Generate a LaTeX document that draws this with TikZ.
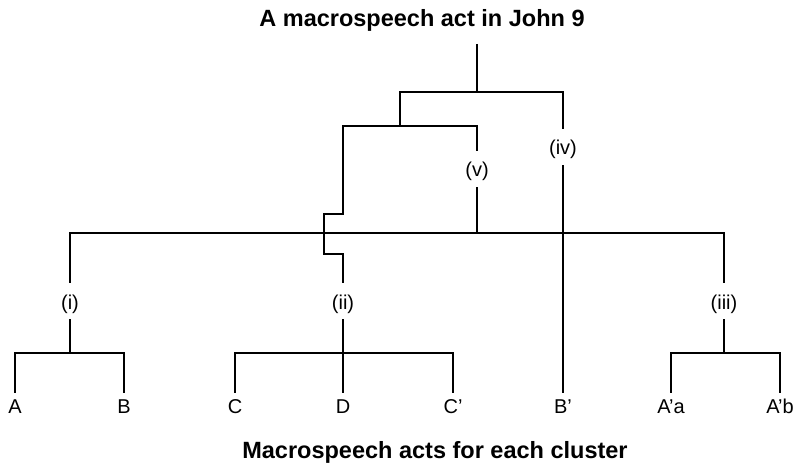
\documentclass[tikz,border=0pt]{standalone}
\usepackage{fontspec}
\setmainfont{Liberation Sans}
\begin{document}
\begin{tikzpicture}[x=1pt,y=-1pt,
  tree/.style={line width=2.9pt},
  actlabel/.style={inner sep=0pt, anchor=base, text height=26pt, text depth=10pt,
    font=\fontsize{20}{24}\selectfont},
  leaf/.style={inner sep=0pt, anchor=base, text height=20pt, text depth=0pt,
    font=\fontsize{20}{24}\selectfont},
  heading/.style={inner sep=0pt, anchor=base, font=\fontsize{23.5}{28}\selectfont\bfseries}]
\useasboundingbox (0,0) rectangle (795,465);

% headings
\node[heading] (title) at (422,27) {A macrospeech act in John 9};
\node[heading] (foot) at (435,458) {Macrospeech acts for each cluster};

% intermediate macrospeech acts
\node[actlabel] (iv)  at (563,155) {(iv)};
\node[actlabel] (v)   at (477,177) {(v)};
\node[actlabel] (i)   at (70,309)  {(i)};
\node[actlabel] (ii)  at (343,309) {(ii)};
\node[actlabel] (iii) at (724,309) {(iii)};

% clusters
\node[leaf] (A)   at (15,413)  {A};
\node[leaf] (B)   at (124,413) {B};
\node[leaf] (C)   at (235,413) {C};
\node[leaf] (D)   at (343,413) {D};
\node[leaf] (Cp)  at (453,413) {C’};
\node[leaf] (Bp)  at (563,413) {B’};
\node[leaf] (Aa)  at (671,413) {A’a};
\node[leaf] (Ab)  at (780,413) {A’b};

% junctions and bends
\coordinate (top)  at (477,44);
\coordinate (t1)   at (477,92);
\coordinate (t1l)  at (400,92);
\coordinate (t2)   at (400,126);
\coordinate (t2l)  at (343,126);
\coordinate (s1)   at (343,214);
\coordinate (s2)   at (324,214);
\coordinate (s3)   at (324,254);
\coordinate (s4)   at (343,254);
\coordinate (bar)  at (477,233);
\coordinate (barr) at (724,233);
\coordinate (ja)   at (70,353);
\coordinate (jb)   at (343,353);
\coordinate (jc)   at (724,353);

% upper tree
\draw[tree] (top) -- (t1);
\draw[tree] (iv.north) |- (t1l) -- (t2);
\draw[tree] (v.north) |- (t2l) -- (s1) -- (s2) -- (s3) -- (s4) -- (ii.north);
\draw[tree] (v.south) -- (bar);
\draw[tree] (i.north) |- (barr) -- (iii.north);
\draw[tree] (iv.south) -- (Bp.north);

% lower branches
\draw[tree] (A.north) |- (ja) -| (B.north);
\draw[tree] (i.south) -- (ja);
\draw[tree] (C.north) |- (jb) -| (Cp.north);
\draw[tree] (ii.south) -- (D.north);
\draw[tree] (Aa.north) |- (jc) -| (Ab.north);
\draw[tree] (iii.south) -- (jc);
\end{tikzpicture}
\end{document}
